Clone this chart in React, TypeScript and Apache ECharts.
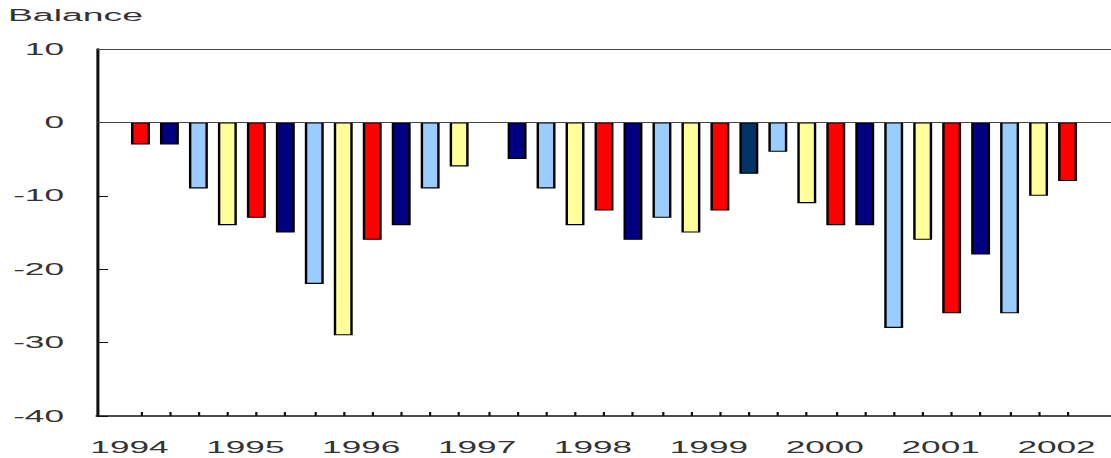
import React, { useEffect, useRef } from "react";
import * as echarts from "echarts";

// ---- data ----
const quarters = [
  "1994 Q1", "1994 Q2", "1994 Q3", "1994 Q4",
  "1995 Q1", "1995 Q2", "1995 Q3", "1995 Q4",
  "1996 Q1", "1996 Q2", "1996 Q3", "1996 Q4",
  "1997 Q1", "1997 Q2", "1997 Q3", "1997 Q4",
  "1998 Q1", "1998 Q2", "1998 Q3", "1998 Q4",
  "1999 Q1", "1999 Q2", "1999 Q3", "1999 Q4",
  "2000 Q1", "2000 Q2", "2000 Q3", "2000 Q4",
  "2001 Q1", "2001 Q2", "2001 Q3", "2001 Q4",
  "2002 Q1",
];
const balance: (number | null)[] = [
  -3, -3, -9, -14,
  -13, -15, -22, -29,
  -16, -14, -9, -6,
  null, -5, -9, -14,
  -12, -16, -13, -15,
  -12, -7, -4, -11,
  -14, -14, -28, -16,
  -26, -18, -26, -10,
  -8,
];
const yMin = -40;
const yMax = 10;
const yStep = 10;
const titleText = "Balance";

// ---- styling ----
const quarterColors: Record<string, string> = {
  Q1: "#FF0000",
  Q2: "#000080",
  Q3: "#99CCFF",
  Q4: "#FFFF99",
};
const specialColors: Record<string, string> = { "1999 Q2": "#003366" };

const S = 2.2; // horizontal stretch of the reference picture
const PAGE_W = 1111;
const PAGE_H = 458;
const FONT = "'Liberation Sans', Arial, sans-serif";

export default function App() {
  const ref = useRef<HTMLDivElement>(null);
  useEffect(() => {
    if (!ref.current) return;
    const chart = echarts.init(ref.current, null, { renderer: "svg" });
    const cats = ["", ...quarters, ""];
    const data = [
      null,
      ...balance.map((v, i) =>
        v === null
          ? null
          : {
              value: v,
              itemStyle: {
                color: specialColors[quarters[i]] || quarterColors[quarters[i].slice(5)],
              },
            }
      ),
      null,
    ];
    chart.setOption({
      animation: false,
      title: {
        text: titleText,
        left: 3.6,
        top: 7,
        padding: 0,
        textStyle: { fontFamily: FONT, fontSize: 17, fontWeight: "normal", color: "#333" },
      },
      grid: { left: 97 / S, right: 0, top: 49, bottom: 42, containLabel: false },
      xAxis: {
        type: "category",
        data: cats,
        boundaryGap: true,
        axisLine: { onZero: false, lineStyle: { color: "#111", width: 1.6 } },
        axisTick: {
          show: true,
          inside: true,
          length: 4,
          alignWithLabel: true,
          interval: (_i: number, v: string) => v !== "",
          lineStyle: { color: "#111", width: 1 },
        },
        axisLabel: {
          interval: (_i: number, v: string) => v.endsWith("Q1"),
          formatter: (v: string) => v.slice(0, 4),
          margin: 23,
          padding: [0, 10, 0, 0],
          fontFamily: FONT,
          fontSize: 16,
          color: "#333",
        },
        splitLine: { show: false },
      },
      yAxis: {
        type: "value",
        min: yMin,
        max: yMax,
        interval: yStep,
        axisLine: { show: true, lineStyle: { color: "#111", width: 1.4 } },
        axisTick: { show: true, inside: true, length: 5, lineStyle: { color: "#111", width: 1 } },
        axisLabel: { margin: 15, fontFamily: FONT, fontSize: 16, color: "#333" },
        splitLine: { show: false },
      },
      series: [
        {
          type: "bar",
          data,
          barWidth: 8.6,
          itemStyle: { borderColor: "#000", borderWidth: 1.1 },
          markLine: {
            silent: true,
            symbol: "none",
            label: { show: false },
            lineStyle: { type: "solid", color: "#444", width: 1 },
            data: [{ yAxis: 0 }, { yAxis: yMax }],
          },
        },
      ],
    });
    return () => chart.dispose();
  }, []);
  return (
    <div
      style={{
        position: "fixed",
        left: 0,
        top: 0,
        width: PAGE_W,
        height: PAGE_H,
        overflow: "hidden",
        background: "#fff",
      }}
    >
      <div
        ref={ref}
        style={{
          width: PAGE_W / S,
          height: PAGE_H,
          transform: `scaleX(${S})`,
          transformOrigin: "0 0",
        }}
      />
    </div>
  );
}
